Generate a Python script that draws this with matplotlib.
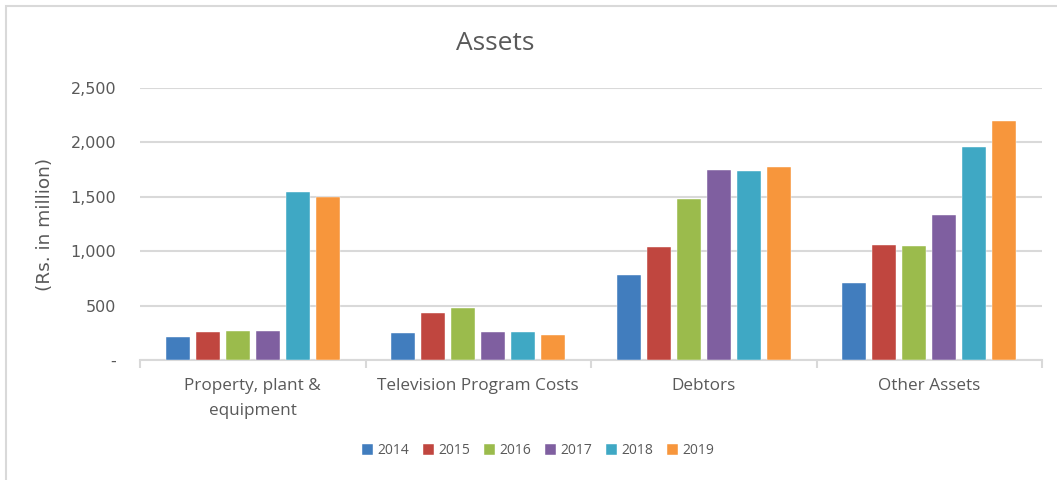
import numpy as np
import matplotlib.pyplot as plt
from matplotlib.patches import Rectangle
from matplotlib.ticker import FuncFormatter, FixedLocator

categories = ["Property, plant &\nequipment", "Television Program Costs", "Debtors", "Other Assets"]
years = ["2014", "2015", "2016", "2017", "2018", "2019"]

# Rs. in million
v2014 = [210, 246, 778, 707]
v2015 = [256, 433, 1038, 1057]
v2016 = [265, 474, 1480, 1047]
v2017 = [265, 256, 1746, 1332]
v2018 = [1544, 256, 1737, 1958]
v2019 = [1495, 226, 1776, 2196]

colors = ["#417DBE", "#C0463F", "#9BBB4C", "#7F5FA0", "#3FA8C4", "#F7963C"]
series = [v2014, v2015, v2016, v2017, v2018, v2019]

W, H = 1057, 480
fig = plt.figure(figsize=(W / 100, H / 100), dpi=100)
ax = fig.add_axes([140 / W, 1 - 360 / H, (1042 - 140) / W, (360 - 88) / H])

# light chart border
fig.patches.append(Rectangle((6 / W, -0.1), 1.2, 1 - 6 / H + 0.1, transform=fig.transFigure,
                             fill=False, edgecolor="#D9D9D9", linewidth=1.5))

x = np.arange(len(categories))
pitch = 30 / 226
width = 24 / 226
for i, (vals, c, yr) in enumerate(zip(series, colors, years)):
    ax.bar(x + (i - 2.5) * pitch, vals, width, color=c, label=yr,
           edgecolor="white", linewidth=0.3, zorder=3)

ax.set_xlim(-0.5, len(categories) - 0.5)
ax.set_ylim(0, 2500)
ax.set_yticks(np.arange(0, 2501, 500))
ax.yaxis.set_major_formatter(FuncFormatter(lambda v, p: "-" if v == 0 else f"{v:,.0f}"))
ax.grid(axis="y", color="#D9D9D9", linewidth=1.5, zorder=0)

ax.set_xticks(x)
ax.set_xticklabels(categories, fontsize=12.3, color="#595959", family="Open Sans", linespacing=1.75)
ax.xaxis.set_minor_locator(FixedLocator(np.arange(-0.5, len(categories), 1)))
ax.tick_params(axis="x", which="major", length=0, pad=13)
ax.tick_params(axis="x", which="minor", length=6, color="#D9D9D9", width=1.5)
ax.tick_params(axis="y", length=0, pad=17, labelsize=11.5, labelcolor="#595959")

for s in ["top", "right", "left"]:
    ax.spines[s].set_visible(False)
ax.spines["bottom"].set_color("#D9D9D9")
ax.spines["bottom"].set_linewidth(1.5)

fig.text(45 / W, 1 - 224 / H, "(Rs. in million)", rotation=90, ha="center", va="center",
         fontsize=13.3, color="#595959")
fig.text(495 / W, 1 - 43 / H, "Assets", ha="center", va="center", fontsize=19,
         color="#595959", family="Open Sans")

fig.legend(loc="center", bbox_to_anchor=(538 / W, 1 - 451 / H), ncol=6, frameon=False,
           handlelength=0.8, handleheight=0.8, handletextpad=0.3,
           columnspacing=1.0, labelcolor="#595959", prop={"family": "Open Sans", "size": 10})

fig.savefig("out.png", dpi=100)
